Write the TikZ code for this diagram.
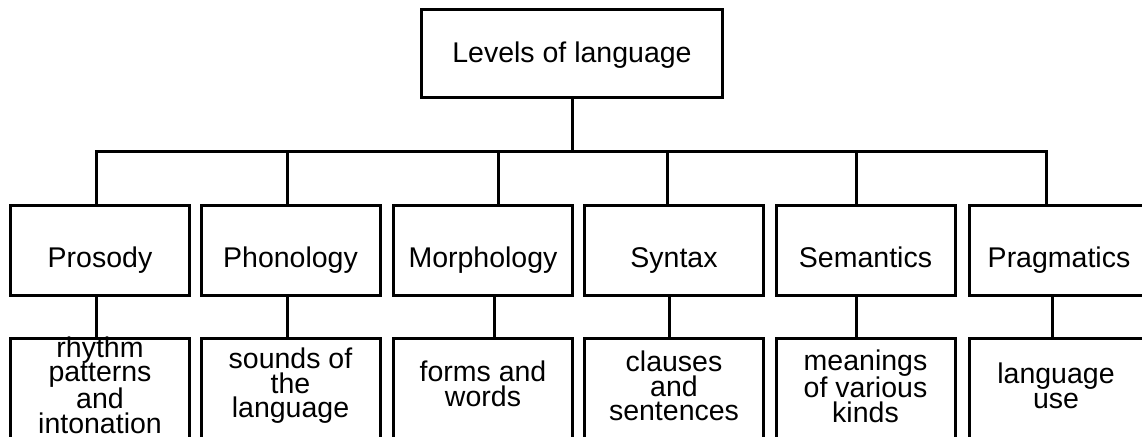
\documentclass[tikz,border=0pt]{standalone}
\usepackage{fontspec}
\setmainfont{Liberation Sans}

\begin{document}
\begin{tikzpicture}[x=1pt, y=-1pt, line width=3pt,
  box/.style={draw, line width=3pt, minimum width=179pt, minimum height=90pt,
              inner sep=0pt, text height=33pt, text depth=0pt,
              font=\fontsize{28.5}{24}\selectfont},
  leaf/.style={draw, line width=3pt, anchor=north, minimum width=179pt,
               minimum height=150pt, inner sep=0pt},
  txt/.style={align=center, inner sep=0pt, font=\fontsize{28.5}{24.4}\selectfont}]

  \useasboundingbox (0,0) rectangle (1142,436);
  \clip (0,0) rectangle (1142,436);

  % Raiz
  \node[box, minimum width=301pt, minimum height=88pt, text height=19pt]
        (root) at (572,53.5) {Levels of language};

  % Fila 2: niveles
  \node[box] (pros)  at (100,250.5)   {Prosody};
  \node[box] (phon)  at (290.5,250.5) {Phonology};
  \node[box] (morph) at (483,250.5)   {Morphology};
  \node[box] (synt)  at (674,250.5)   {Syntax};
  \node[box] (sem)   at (865.5,250.5) {Semantics};
  \node[box] (prag)  at (1059,250.5)  {Pragmatics};

  % Fila 3: descripciones (cortadas abajo)
  \node[leaf] (prosl)  at (100,337)   {};
  \node[leaf] (phonl)  at (290.5,337) {};
  \node[leaf] (morphl) at (483,337)   {};
  \node[leaf] (syntl)  at (674,337)   {};
  \node[leaf] (seml)   at (865.5,337) {};
  \node[leaf] (pragl)  at (1059,337)  {};

  \node[txt] (prost)  at (100,385)   {rhythm\\patterns\\and\\intonation};
  \node[txt] (phont)  at (290.5,386) {sounds of\\the\\language};
  \node[txt] (morpht) at (483,384)   {forms and\\words};
  \node[txt] (syntt)  at (674,386)   {clauses\\and\\sentences};
  \node[txt] (semt)   at (865.5,386) {meanings\\of various\\kinds};
  \node[txt] (pragt)  at (1056,386)  {language\\use};

  % Barra
  \coordinate (bus) at (572,151);
  \draw (root.south) -- (bus);
  \draw (bus) -| ([xshift=-4pt]pros.north);
  \draw (bus) -| ([xshift=-3.5pt]phon.north);
  \draw (bus) -| ([xshift=15pt]morph.north);
  \draw (bus) -| ([xshift=-7pt]synt.north);
  \draw (bus) -| ([xshift=-9.5pt]sem.north);
  \draw (bus) -| ([xshift=-13pt]prag.north);

  % Lineas a descripciones
  \draw ([xshift=-4pt]pros.south)   -- ([xshift=-4pt]prosl.north);
  \draw ([xshift=-3.5pt]phon.south) -- ([xshift=-3.5pt]phonl.north);
  \draw ([xshift=11pt]morph.south)  -- ([xshift=11pt]morphl.north);
  \draw ([xshift=-5pt]synt.south)   -- ([xshift=-5pt]syntl.north);
  \draw ([xshift=-9.5pt]sem.south)  -- ([xshift=-9.5pt]seml.north);
  \draw ([xshift=-7pt]prag.south)   -- ([xshift=-7pt]pragl.north);
\end{tikzpicture}
\end{document}
